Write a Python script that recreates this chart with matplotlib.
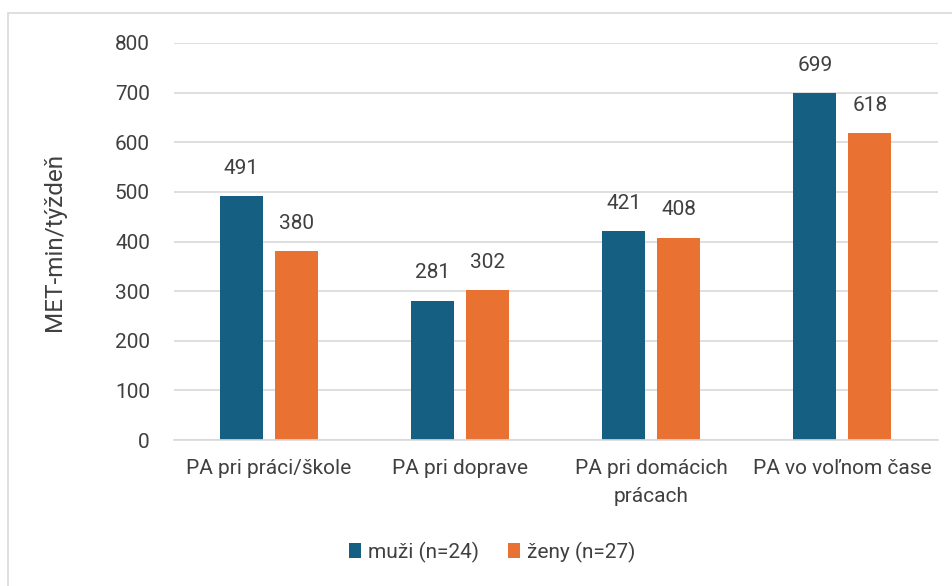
import matplotlib
matplotlib.use("Agg")
import matplotlib.pyplot as plt
import numpy as np
from matplotlib.patches import Rectangle

categories = ["PA pri práci/škole", "PA pri doprave", "PA pri domácich\nprácach", "PA vo voľnom čase"]
series_names = ["muži (n=24)", "ženy (n=27)"]
muzi = [491, 281, 421, 699]
zeny = [380, 302, 408, 618]
yticks = [0, 100, 200, 300, 400, 500, 600, 700, 800]

plt.rcParams['font.family'] = ['Roboto', 'DejaVu Sans']
txt = '#404040'

fig = plt.figure(figsize=(9.52, 5.86), dpi=100)
W, H = 952, 586
ax = fig.add_axes([173.5 / W, 1 - 440 / H, (938 - 173.5) / W, (440 - 43) / H])

x = np.arange(len(categories))
bw = 0.225
off = 0.144
b1 = ax.bar(x - off, muzi, bw, color='#156082', label=series_names[0], zorder=3)
b2 = ax.bar(x + off, zeny, bw, color='#E97132', label=series_names[1], zorder=3)

for bars, vals in ((b1, muzi), (b2, zeny)):
    for r, v in zip(bars, vals):
        ax.annotate(str(v), (r.get_x() + r.get_width() / 2, v), xytext=(0, 13),
                    textcoords='offset points', ha='center', va='bottom',
                    fontsize=15, color=txt)

ax.set_xlim(-0.5, len(categories) - 0.5)
ax.set_ylim(0, 800)
ax.set_yticks(yticks)
ax.set_yticklabels([str(t) for t in yticks])
ax.yaxis.grid(True, color='#D9D9D9', linewidth=1.2, zorder=0)
ax.set_xticks(x)
ax.set_xticklabels(categories, fontsize=15, color=txt, linespacing=1.55)
ax.tick_params(axis='y', length=0, labelsize=15, labelcolor=txt, pad=17)
ax.tick_params(axis='x', length=0, pad=14)
for s in ['top', 'right', 'left']:
    ax.spines[s].set_visible(False)
ax.spines['bottom'].set_color('#D9D9D9')
ax.spines['bottom'].set_linewidth(1.2)
ax.spines['bottom'].set_zorder(4)

ax.set_ylabel("MET-min/týždeň", fontsize=17.5, color=txt)
ax.yaxis.set_label_coords((66 - 173.5) / (938 - 173.5), 0.5)

leg = fig.legend(handles=[b1, b2], labels=series_names, loc='center',
                 bbox_to_anchor=(492 / W, 1 - 552 / H), ncol=2, frameon=False,
                 fontsize=15, handlelength=0.6, handleheight=0.7,
                 handletextpad=0.3, columnspacing=1.4)
for t in leg.get_texts():
    t.set_color(txt)

border = Rectangle((8 / W, -0.1), 1.2, 1 - 13 / H + 0.1, transform=fig.transFigure,
                   fill=False, edgecolor='#D9D9D9', linewidth=1.2)
fig.patches.append(border)

fig.savefig("out.png", dpi=100)
